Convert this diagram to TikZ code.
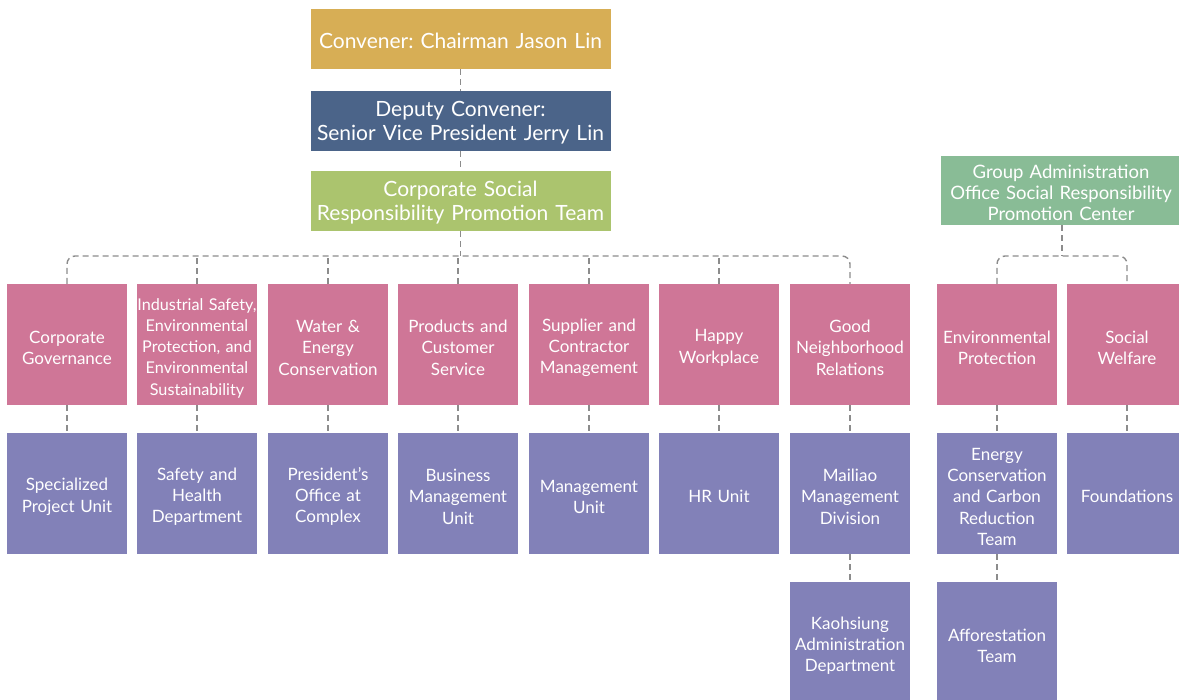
\documentclass[tikz,border=0pt]{standalone}
\usepackage{fontspec}
\setmainfont{Lato}
\usetikzlibrary{calc}
\frenchspacing
\definecolor{convgold}{RGB}{215,174,85}
\definecolor{deputyblue}{RGB}{75,100,137}
\definecolor{teamgreen}{RGB}{171,196,110}
\definecolor{groupgreen}{RGB}{137,188,150}
\definecolor{unitpink}{RGB}{207,118,151}
\definecolor{deptpurple}{RGB}{130,129,184}
\definecolor{linkgrey}{RGB}{140,140,140}
\tikzset{
  box/.style={inner ysep=0pt, inner xsep=-5pt, text width=130pt, align=center, text=white, minimum width=120pt, minimum height=121pt, font=\fontsize{17}{21.3}\selectfont, execute at begin node={\rule{0pt}{19pt}}},
  topbox/.style={box, text width=300pt, inner xsep=0pt, minimum width=300pt, minimum height=60pt, font=\fontsize{21}{23.6}\selectfont},
  unit/.style={box, fill=unitpink},
  dept/.style={box, fill=deptpurple},
  link/.style={draw=linkgrey, line width=1.4pt, dash pattern=on 6pt off 4pt},
}

\begin{document}
\begin{tikzpicture}[x=1pt, y=-1pt]
			%%%%% START %%%%%
			
			\clip (0, 0) rectangle (1179, 700);
			
			\node[topbox, fill=convgold] (conv) at (460.5, 39) {Convener: Chairman Jason Lin};
			\node[topbox, fill=deputyblue] (deputy) at (460.5, 121) {Deputy Convener:\\Senior Vice President Jerry Lin};
			\node[topbox, fill=teamgreen] (team) at (460.5, 201) {Corporate Social\\Responsibility Promotion Team};
			\node[topbox, fill=groupgreen, text width=240pt, minimum width=240pt, minimum height=69pt, font=\fontsize{18.5}{21}\selectfont] (group) at (1061, 190.5) {Group Administration\\Office Social Responsibility\\Promotion Center};
			
			\node[unit] (gov) at (67, 344.5) {Corporate\\Governance};
			\node[unit, font=\fontsize{16.2}{21.3}\selectfont] (safety) at (197, 344.5) {Industrial Safety,\\Environmental\\Protection, and\\Environmental\\Sustainability};
			\node[unit] (water) at (328, 344.5) {Water \&\\Energy\\Conservation};
			\node[unit] (prod) at (458, 344.5) {Products and\\Customer\\Service};
			\node[unit] (supp) at (589, 344.5) {Supplier and\\Contractor\\Management};
			\node[unit] (happy) at (719, 344.5) {Happy\\Workplace};
			\node[unit] (good) at (850, 344.5) {Good\\Neighborhood\\Relations};
			\node[unit] (env) at (997, 344.5) {Environmental\\Protection};
			\node[unit] (welfare) at (1127, 344.5) {Social\\Welfare};
			
			\node[dept] (spec) at (67, 493.5) {Specialized\\Project Unit};
			\node[dept] (health) at (197, 493.5) {Safety and\\Health\\Department};
			\node[dept] (office) at (328, 493.5) {President's\\Office at\\Complex};
			\node[dept] (busi) at (458, 493.5) {Business\\Management\\Unit};
			\node[dept] (manage) at (589, 493.5) {Management\\Unit};
			\node[dept] (hr) at (719, 493.5) {HR Unit};
			\node[dept] (mailiao) at (850, 493.5) {Mailiao\\Management\\Division};
			\node[dept] (carbon) at (997, 493.5) {Energy\\Conservation\\and Carbon\\Reduction\\Team};
			\node[dept] (found) at (1127, 493.5) {Foundations};
			
			\node[dept] (kaoh) at (850, 642.5) {Kaohsiung\\Administration\\Department};
			\node[dept] (forest) at (997, 642.5) {Afforestation\\Team};
			
			\coordinate (bus) at (460.5, 256);
			\coordinate (gbus) at (1062, 256);
			
			\draw[link] (conv) -- (deputy);
			\draw[link] (deputy) -- (team);
			\draw[link] (team) -- (bus);
			\draw[link, rounded corners=8pt] (gov.north) |- (bus) -| (good.north);
			\foreach \u in {safety, water, prod, supp, happy}
				\draw[link] (\u.north) -- (\u.north |- bus);
			
			\draw[link] (group.south -| gbus) -- (gbus);
			\draw[link, rounded corners=8pt] (env.north) |- (gbus) -| (welfare.north);
			
			\draw[link] (gov) -- (spec);
			\draw[link] (safety) -- (health);
			\draw[link] (water) -- (office);
			\draw[link] (prod) -- (busi);
			\draw[link] (supp) -- (manage);
			\draw[link] (happy) -- (hr);
			\draw[link] (good) -- (mailiao);
			\draw[link] (env) -- (carbon);
			\draw[link] (welfare) -- (found);
			\draw[link] (mailiao) -- (kaoh);
			\draw[link] (carbon) -- (forest);
			
			%%%%% END %%%%%
\end{tikzpicture}
\end{document}
